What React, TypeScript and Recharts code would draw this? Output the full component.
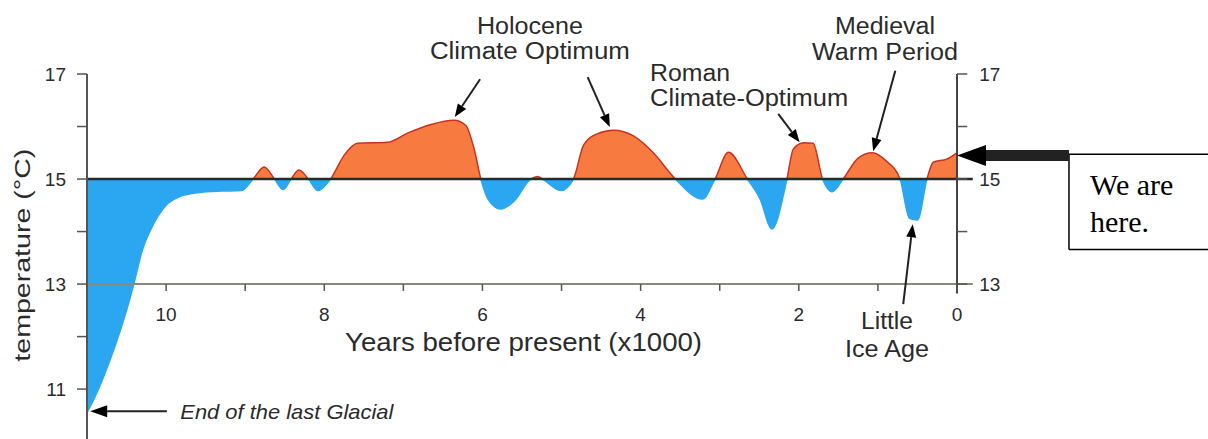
import React from 'react';
import {
  AreaChart,
  Area,
  XAxis,
  YAxis,
  ReferenceLine,
  ReferenceDot,
  ReferenceArea,
} from 'recharts';

// years before present (x1000) from left to right
const years = [
  11.0, 10.9, 10.8, 10.65, 10.5, 10.4, 10.3, 10.2, 10.1, 10.0, 9.85, 9.6, 9.3, 9.05,
  8.9, 8.76, 8.63, 8.52, 8.42, 8.32, 8.2, 8.08, 7.92, 7.75, 7.58, 7.2, 6.94, 6.65,
  6.36, 6.21, 6.11, 6.02, 5.93, 5.77, 5.6, 5.39, 5.3, 5.24, 5.01, 4.85, 4.72, 4.55,
  4.34, 4.09, 3.84, 3.56, 3.22, 3.06, 2.89, 2.65, 2.49, 2.34, 2.15, 2.07, 1.94, 1.82,
  1.7, 1.58, 1.44, 1.25, 1.07, 0.9, 0.72, 0.6, 0.5, 0.38, 0.3, 0.13, 0.0,
];

// temperature (°C) for each year above
const temps = [
  10.55, 10.85, 11.2, 11.8, 12.5, 13.05, 13.65, 14.02, 14.3, 14.5, 14.65, 14.74, 14.77, 14.78,
  15.0, 15.23, 15.0, 14.8, 15.0, 15.17, 15.0, 14.78, 15.0, 15.45, 15.68, 15.7, 15.88, 16.04,
  16.12, 16.02, 15.6, 15.0, 14.62, 14.43, 14.58, 15.0, 15.05, 15.0, 14.78, 15.0, 15.65, 15.86,
  15.93, 15.82, 15.5, 15.0, 14.62, 15.0, 15.51, 15.0, 14.62, 14.05, 15.0, 15.57, 15.69, 15.68,
  15.0, 14.76, 15.0, 15.4, 15.5, 15.35, 15.0, 14.25, 14.22, 15.0, 15.32, 15.38, 15.5,
];

const xTicks = [10, 9, 8, 7, 6, 5, 4, 3, 2, 1, 0];
const xTickLabels = ['10', '', '8', '', '6', '', '4', '', '2', '', '0'];
const yTicksLeft = [11, 12, 13, 14, 15, 16, 17];
const yTicksRight = [13, 14, 15, 16, 17];
const yTickLabelsRight = ['13', '', '15', '', '17'];

const BASE = 15;
const RED = '#f77a41';
const RED_LINE = '#c8321e';
const BLUE = '#2ba6f0';
const INK = '#222';
const TEXT = '#2b2b2b';

const data = years.map((t, i) => ({ t, temp: temps[i] }));
const maxT = Math.max(...temps);
const minT = Math.min(...temps);
const split = (maxT - BASE) / (maxT - minT);

type Note = {
  lines: string[];
  t: number;
  v: number;
  anchor: 'start' | 'middle';
  widths: number[];
  size: number;
  gap: number;
  italic?: boolean;
  rotate?: boolean;
};

// text placed in data coordinates (first line baseline at t/v)
const notes: Note[] = [
  { lines: ['Holocene', 'Climate Optimum'], t: 5.4, v: 17.76, anchor: 'middle', widths: [106, 200], size: 23, gap: 25 },
  { lines: ['Roman', 'Climate-Optimum'], t: 3.88, v: 16.87, anchor: 'start', widths: [80, 198], size: 23, gap: 25 },
  { lines: ['Medieval', 'Warm Period'], t: 0.91, v: 17.76, anchor: 'middle', widths: [100, 146], size: 23, gap: 26 },
  { lines: ['Little', 'Ice Age'], t: 0.885, v: 12.14, anchor: 'middle', widths: [52, 84], size: 23, gap: 28 },
  { lines: ['End of the last Glacial'], t: 9.82, v: 10.43, anchor: 'start', widths: [213], size: 21, gap: 0, italic: true },
  { lines: ['Years before present (x1000)'], t: 5.48, v: 11.72, anchor: 'middle', widths: [357], size: 25, gap: 0 },
  { lines: ['temperature (°C)'], t: 11.81, v: 13.55, anchor: 'middle', widths: [213], size: 22, gap: 0, rotate: true },
];

// arrows: tail (t, v) -> tip (t, v)
const arrows = [
  [6.03, 16.9, 6.35, 16.18],
  [4.67, 16.94, 4.39, 15.99],
  [2.26, 16.24, 1.99, 15.7],
  [0.78, 17.06, 1.06, 15.53],
  [0.68, 12.62, 0.56, 14.14],
  [9.99, 10.58, 10.96, 10.58],
];

// "We are here." box edges (t, v) and its thick pointer
const BOX_LEFT = -1.416;
const BOX_RIGHT = -3.6;
const BOX_TOP = 15.47;
const BOX_BOTTOM = 13.66;

const renderNote = (note: Note) => (props: any) => {
  const vb = props.viewBox || {};
  const x = (vb.x ?? 0) + (vb.width ?? 0) / 2;
  const y = (vb.y ?? 0) + (vb.height ?? 0) / 2;
  if (note.rotate) {
    return (
      <text
        x={x}
        y={y}
        transform={`rotate(-90 ${x} ${y})`}
        textAnchor="middle"
        dominantBaseline="central"
        fontSize={note.size}
        fill={TEXT}
        textLength={note.widths[0]}
        lengthAdjust="spacingAndGlyphs"
      >
        {note.lines[0]}
      </text>
    );
  }
  return (
    <g>
      {note.lines.map((line, i) => (
        <text
          key={line}
          x={x}
          y={y + i * note.gap}
          textAnchor={note.anchor}
          fontSize={note.size}
          fontStyle={note.italic ? 'italic' : 'normal'}
          fill={TEXT}
          textLength={note.widths[i]}
          lengthAdjust="spacingAndGlyphs"
        >
          {line}
        </text>
      ))}
    </g>
  );
};

const arrowShape = (len: number, half: number, width: number) => (props: any) => {
  const { x1, y1, x2, y2 } = props;
  const ang = Math.atan2(y2 - y1, x2 - x1);
  const bx = x2 - len * Math.cos(ang);
  const by = y2 - len * Math.sin(ang);
  const px = -Math.sin(ang) * half;
  const py = Math.cos(ang) * half;
  return (
    <g>
      <line x1={x1} y1={y1} x2={bx} y2={by} stroke={INK} strokeWidth={width} />
      <polygon points={`${x2},${y2} ${bx + px},${by + py} ${bx - px},${by - py}`} fill="#000" />
    </g>
  );
};

const boxLabel = (props: any) => {
  const vb = props.viewBox || {};
  return (
    <g fontFamily='"Liberation Serif", "Times New Roman", serif' fontSize={30} fill="#000">
      <text x={vb.x + 21} y={vb.y + 41}>We are</text>
      <text x={vb.x + 21} y={vb.y + 78}>here.</text>
    </g>
  );
};

export default function App() {
  return (
    <div
      style={{
        position: 'absolute',
        left: 0,
        top: 0,
        width: 1208,
        height: 439,
        overflow: 'hidden',
        background: '#fff',
        fontFamily: '"Liberation Sans", Arial, sans-serif',
      }}
    >
      <AreaChart width={1208} height={439} data={data} margin={{ top: 74, right: 251, bottom: 0, left: 0 }}>
        <defs>
          <linearGradient id="splitFill" x1="0" y1="0" x2="0" y2="1">
            <stop offset={split} stopColor={RED} />
            <stop offset={split} stopColor={BLUE} />
          </linearGradient>
          <linearGradient id="splitStroke" x1="0" y1="0" x2="0" y2="1">
            <stop offset={split} stopColor={RED_LINE} />
            <stop offset={split} stopColor={BLUE} />
          </linearGradient>
        </defs>
        <XAxis dataKey="t" type="number" domain={[0, 11]} reversed hide />
        <YAxis
          yAxisId="left"
          type="number"
          domain={[10.05, 17]}
          ticks={yTicksLeft}
          interval={0}
          width={87}
          tickSize={10}
          tickMargin={11}
          tickFormatter={(v: number) => (v % 2 ? String(v) : '')}
          axisLine={{ stroke: '#555', strokeWidth: 2 }}
          tickLine={{ stroke: '#555', strokeWidth: 1.5 }}
          tick={{ fontSize: 19, fill: TEXT }}
        />
        <Area
          yAxisId="left"
          type="monotone"
          dataKey="temp"
          baseValue={BASE}
          fill="url(#splitFill)"
          fillOpacity={1}
          stroke="url(#splitStroke)"
          strokeWidth={1.5}
          dot={false}
          activeDot={false}
          isAnimationActive={false}
        />
        <ReferenceLine
          yAxisId="left"
          segment={[{ x: 11, y: 13 }, { x: -0.2, y: 13 }]}
          stroke="#8a8a7c"
          strokeWidth={2}
          ifOverflow="visible"
        />
        <ReferenceLine
          yAxisId="left"
          segment={[{ x: 11, y: BASE }, { x: -0.2, y: BASE }]}
          stroke="#2a2a2a"
          strokeWidth={2.5}
          ifOverflow="visible"
        />
        <ReferenceLine
          yAxisId="left"
          segment={[{ x: 0, y: 17 }, { x: 0, y: 12.82 }]}
          stroke="#444"
          strokeWidth={2}
          ifOverflow="visible"
        />
        {yTicksRight.map((v, i) => (
          <ReferenceLine
            key={`yt${v}`}
            yAxisId="left"
            segment={[{ x: 0, y: v }, { x: -0.13, y: v }]}
            stroke="#555"
            strokeWidth={1.5}
            ifOverflow="visible"
            label={{ value: yTickLabelsRight[i], position: 'right', offset: 12, fontSize: 19, fill: TEXT }}
          />
        ))}
        {xTicks.map((k, i) => (
          <ReferenceLine
            key={`xt${k}`}
            yAxisId="left"
            segment={[{ x: k, y: 13 }, { x: k, y: 12.87 }]}
            stroke="#555"
            strokeWidth={1.5}
            ifOverflow="visible"
            label={{ value: xTickLabels[i], position: 'bottom', offset: 17, fontSize: 19, fill: TEXT }}
          />
        ))}
        {arrows.map(([t1, v1, t2, v2], i) => (
          <ReferenceLine
            key={`ar${i}`}
            yAxisId="left"
            segment={[{ x: t1, y: v1 }, { x: t2, y: v2 }]}
            ifOverflow="visible"
            shape={arrowShape(i === 5 ? 17 : 13, i === 5 ? 6 : 5, 2)}
          />
        ))}
        <ReferenceArea
          yAxisId="left"
          x1={BOX_LEFT}
          x2={BOX_RIGHT}
          y1={BOX_TOP}
          y2={BOX_BOTTOM}
          fill="#fff"
          fillOpacity={1}
          stroke="none"
          ifOverflow="visible"
          label={{ content: boxLabel }}
        />
        <ReferenceLine
          yAxisId="left"
          segment={[{ x: BOX_LEFT, y: BOX_TOP }, { x: BOX_RIGHT, y: BOX_TOP }]}
          stroke="#000"
          strokeWidth={1.5}
          ifOverflow="visible"
        />
        <ReferenceLine
          yAxisId="left"
          segment={[{ x: BOX_LEFT, y: BOX_BOTTOM }, { x: BOX_RIGHT, y: BOX_BOTTOM }]}
          stroke="#000"
          strokeWidth={1.5}
          ifOverflow="visible"
        />
        <ReferenceLine
          yAxisId="left"
          segment={[{ x: BOX_LEFT, y: BOX_TOP }, { x: BOX_LEFT, y: BOX_BOTTOM }]}
          stroke="#000"
          strokeWidth={1.5}
          ifOverflow="visible"
        />
        <ReferenceLine
          yAxisId="left"
          segment={[{ x: BOX_LEFT, y: 15.45 }, { x: 0, y: 15.45 }]}
          ifOverflow="visible"
          shape={arrowShape(29, 10.5, 11)}
        />
        {notes.map((n) => (
          <ReferenceDot
            key={n.lines[0]}
            yAxisId="left"
            x={n.t}
            y={n.v}
            r={0}
            fill="none"
            stroke="none"
            ifOverflow="visible"
            label={{ content: renderNote(n) }}
          />
        ))}
      </AreaChart>
    </div>
  );
}
